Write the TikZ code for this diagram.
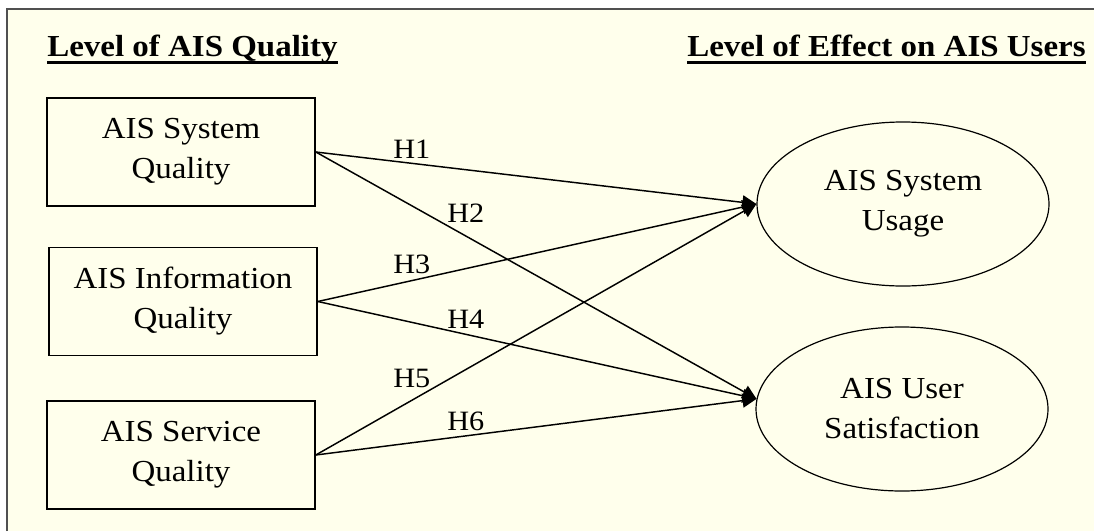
\documentclass[tikz,border=0pt]{standalone}
\usepackage{fontspec}
\setmainfont{Liberation Serif}[FakeStretch=1.08]
\usetikzlibrary{shapes.geometric,arrows.meta}
\definecolor{cream}{RGB}{255,255,236}
\definecolor{framegray}{RGB}{80,80,80}

\begin{document}
\begin{tikzpicture}
  [x=0.75pt,y=-0.75pt,
   every node/.style={font=\fontsize{22.9}{30}\selectfont,align=center},
   qbox/.style={shape=rectangle,draw,line width=1.2pt,minimum width=201pt,minimum height=81pt},
   effect/.style={shape=ellipse,draw,line width=0.9pt,minimum width=219pt,minimum height=123pt},
   title/.style={font=\fontsize{22.9}{28}\selectfont\bfseries,inner sep=0pt},
   hyp/.style={font=\fontsize{21}{24}\selectfont,inner sep=0pt,anchor=base west},
   link/.style={line width=1.1pt,-{Triangle[length=10.5pt,width=10.5pt]}}]
\useasboundingbox (0,0) rectangle (1094,531);
\fill [white] (0,0) rectangle (1094,531);
\fill [cream] (7,9) rectangle (1094,531);
\draw [framegray,line width=1.5pt] (7,531) -- (7,9) -- (1094,9);

\node [title,anchor=base west] (t1) at (47,57)    {Level of AIS Quality};
\node [title,anchor=base]      (t2) at (886.5,57) {Level of Effect on AIS Users};
\draw [line width=1.8pt] ([yshift=-4.2pt]t1.base west) -- ([yshift=-4.2pt]t1.base east)
                         ([yshift=-4.2pt]t2.base west) -- ([yshift=-4.2pt]t2.base east);

\node [qbox]   (sq)  at (181,152)   {AIS System\\Quality};
\node [qbox]   (iq)  at (183,301.5) {AIS Information\\Quality};
\node [qbox]   (svq) at (181,455)   {AIS Service\\Quality};
\node [effect] (use) at (903,204)   {AIS System\\Usage};
\node [effect] (sat) at (902,409)   {AIS User\\Satisfaction};

\foreach \from/\to in {sq/use.west,sq/sat.176,iq/use.west,
                       iq/sat.176,svq/use.west,svq/sat.176}
  \draw [link] (\from.east) -- (\to);

\foreach \n/\x/\y in {1/393/158,2/447/222,3/393/273,
                      4/447/328,5/393/387,6/447/430}
  \node [hyp] (h\n) at (\x,\y) {H\n};
\end{tikzpicture}
\end{document}
